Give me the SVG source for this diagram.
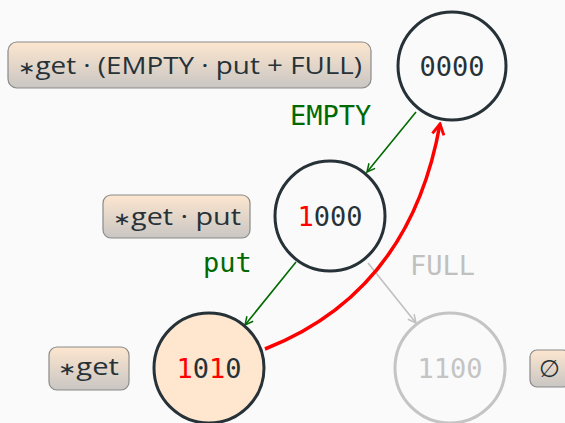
<svg xmlns="http://www.w3.org/2000/svg" width="565" height="423" viewBox="0 0 565 423">
<defs>
<linearGradient id="bg" x1="0" y1="0" x2="0" y2="1">
<stop offset="0" stop-color="#fde6cf"/>
<stop offset="1" stop-color="#c9c6c3"/>
</linearGradient>
<marker id="ag" viewBox="0 0 10 10" refX="9" refY="5" markerWidth="10" markerHeight="10" markerUnits="userSpaceOnUse" orient="auto"><path d="M1,1 L9,5 L1,9" fill="none" stroke="#006a00" stroke-width="1.5"/></marker>
<marker id="agr" viewBox="0 0 10 10" refX="9" refY="5" markerWidth="10" markerHeight="10" markerUnits="userSpaceOnUse" orient="auto"><path d="M1,1 L9,5 L1,9" fill="none" stroke="#c0c0c0" stroke-width="1.5"/></marker>
<marker id="ar" viewBox="0 0 12 12" refX="10" refY="6" markerWidth="14" markerHeight="14" markerUnits="userSpaceOnUse" orient="auto"><path d="M1,1 L10,6 L1,11" fill="none" stroke="#ff0000" stroke-width="2.5"/></marker>
</defs>
<style>
.box{fill:url(#bg);stroke:#8a8a8a;stroke-width:1.2}
.bt{font-family:"Open Sans","Noto Sans","DejaVu Sans",sans-serif;font-size:24px;fill:#263238}
.n{fill:none;stroke:#263238;stroke-width:3}
.g{fill:none;stroke:#c4c4c4;stroke-width:3}
.nt{font-family:"DejaVu Sans Mono","Liberation Mono",monospace;font-size:27px;fill:#263238;text-anchor:middle}
.el{font-family:"DejaVu Sans Mono","Liberation Mono",monospace;font-size:27px}
.r{fill:#ff0000}
.s{font-size:18px}
</style>
<rect width="565" height="423" fill="#fafafa"/>
<g id="lbl0"><rect class="box" x="8" y="42" width="363" height="46" rx="9"/><text class="bt" x="18" y="74" textLength="344" lengthAdjust="spacingAndGlyphs"><tspan class="s">∗</tspan>get · (EMPTY · put + FULL)</text></g>
<g id="lbl1"><rect class="box" x="103" y="195" width="147" height="43" rx="8"/><text class="bt" x="113" y="225" textLength="128" lengthAdjust="spacingAndGlyphs"><tspan class="s">∗</tspan>get · put</text></g>
<g id="lbl2"><rect class="box" x="49" y="347" width="80" height="43" rx="8"/><text class="bt" x="58" y="375" textLength="61" lengthAdjust="spacingAndGlyphs"><tspan class="s">∗</tspan>get</text></g>
<g id="lbl3"><rect class="box" x="530" y="350" width="40" height="37" rx="7"/><text class="bt" x="539" y="377">∅</text></g>
<g id="edges">
<line x1="416" y1="112" x2="367" y2="172" stroke="#006a00" stroke-width="1.6" marker-end="url(#ag)"/>
<line x1="296" y1="262" x2="245" y2="325" stroke="#006a00" stroke-width="1.6" marker-end="url(#ag)"/>
<line x1="368" y1="263" x2="416" y2="323" stroke="#c0c0c0" stroke-width="1.6" marker-end="url(#agr)"/>
<path d="M265,349 Q410,292 440,124" fill="none" stroke="#ff0000" stroke-width="3.5" marker-end="url(#ar)"/>
<text class="el" x="290" y="125" fill="#006a00">EMPTY</text>
<text class="el" x="203" y="272" fill="#006a00">put</text>
<text class="el" x="410" y="275" fill="#c0c0c0">FULL</text>
</g>
<g id="n0000"><circle class="n" cx="452" cy="66" r="54"/><text class="nt" x="452" y="76">0000</text></g>
<g id="n1000"><circle class="n" cx="330" cy="216" r="55"/><text class="nt" x="330" y="226"><tspan class="r">1</tspan>000</text></g>
<g id="n1010"><circle class="n" cx="209" cy="368" r="55" style="fill:#ffe7cf"/><text class="nt" x="209" y="378"><tspan class="r">1</tspan>0<tspan class="r">1</tspan>0</text></g>
<g id="n1100"><circle class="g" cx="450" cy="368" r="55"/><text class="nt" x="450" y="378" style="fill:#c4c4c4">1100</text></g>
</svg>
